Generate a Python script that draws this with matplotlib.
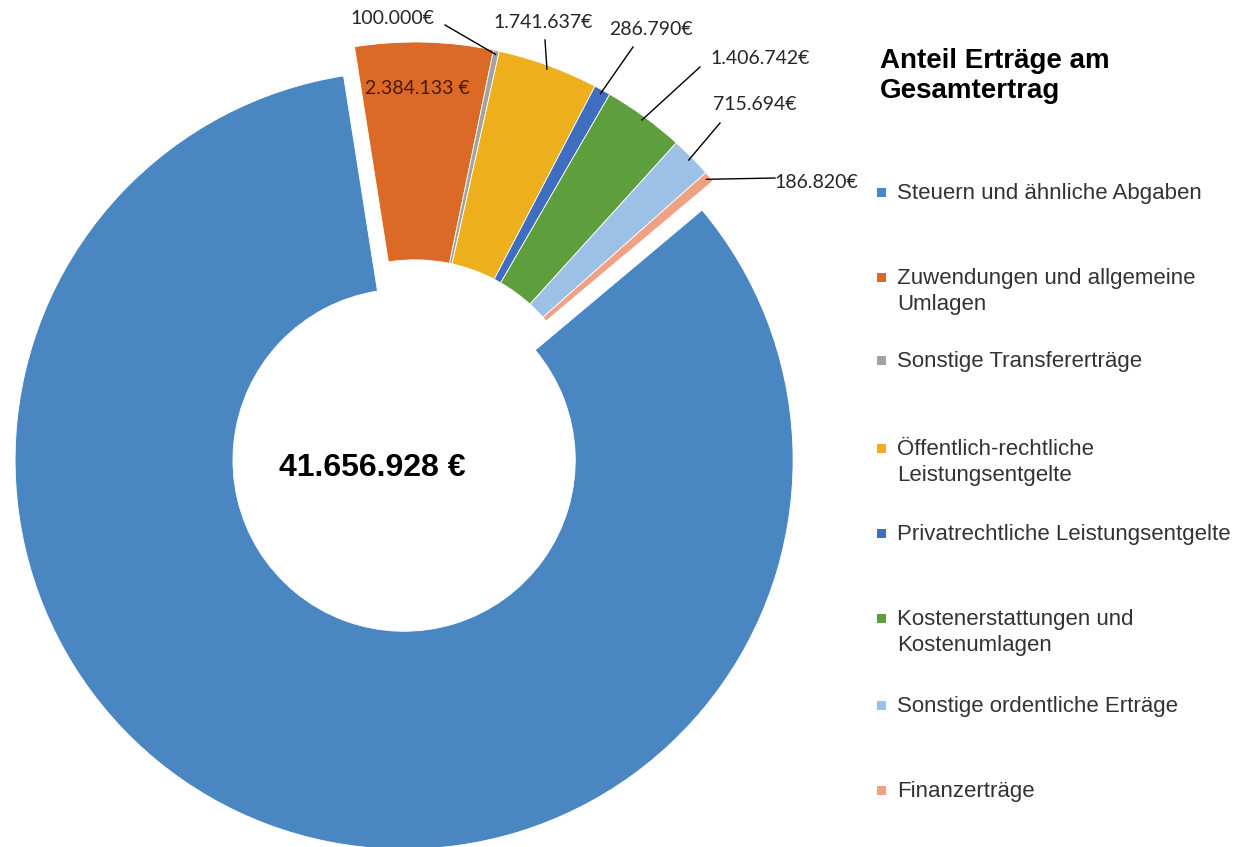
import matplotlib
matplotlib.use("Agg")
import numpy as np
import matplotlib.pyplot as plt
from matplotlib.patches import Rectangle

# data (euro)
categories = [
    "Steuern und ähnliche Abgaben",
    "Zuwendungen und allgemeine\nUmlagen",
    "Sonstige Transfererträge",
    "Öffentlich-rechtliche\nLeistungsentgelte",
    "Privatrechtliche Leistungsentgelte",
    "Kostenerstattungen und\nKostenumlagen",
    "Sonstige ordentliche Erträge",
    "Finanzerträge",
]
values = [34835112, 2384133, 100000, 1741637, 286790, 1406742, 715694, 186820]
value_labels = ["", "2.384.133 €", "100.000€", "1.741.637€", "286.790€",
                "1.406.742€", "715.694€", "186.820€"]
total_label = "41.656.928 €"
title = "Anteil Erträge am\nGesamtertrag"

colors = ["#4A86C2", "#DC6A27", "#A3A3A3", "#EDB01C", "#3F6DC0",
          "#5F9E3C", "#9DC1E6", "#F0A184"]

W, H = 1242, 847
CX, CY, R = 415, 431, 389   # pixel centre / radius of the unexploded ring


def px(x, y):
    """pixel (from top-left) -> data coords"""
    return (x - CX) / R, (CY - y) / R


fig = plt.figure(figsize=(W / 100, H / 100), dpi=100)
ax = fig.add_axes([0, 0, 1, 1])

wedges, _ = ax.pie(values, colors=colors, startangle=40, counterclock=False,
                   explode=[0.08] + [0] * 7, radius=1.0,
                   wedgeprops=dict(width=0.56, edgecolor="white", linewidth=0.6))

x0, y0 = px(0, H)
x1, y1 = px(W, 0)
ax.set_xlim(x0, x1)
ax.set_ylim(y0, y1)
ax.set_aspect("auto")
ax.axis("off")

lab_font = dict(family=["Lato", "DejaVu Sans"], fontsize=14, color="#262626")

# inside label of the orange wedge
tx, ty = px(417, 88)
ax.text(tx, ty, value_labels[1], ha="center", va="center",
        **{**lab_font, "color": "#4a1a08"})

# outside labels with leader lines: (text centre px, line start px)
label_layout = {
    2: ((392, 18), (445, 25)),
    3: ((543, 23), (545, 40)),
    4: ((651, 30), (633, 47)),
    5: ((760, 58), (700, 67)),
    6: ((755, 105), (720, 123)),
    7: ((816, 183), (775, 178)),
}
for i, ((tpx, tpy), (lpx, lpy)) in label_layout.items():
    w = wedges[i]
    mid = np.deg2rad((w.theta1 + w.theta2) / 2)
    ex, ey = np.cos(mid) * 0.99, np.sin(mid) * 0.99
    sx, sy = px(lpx, lpy)
    ax.plot([sx, ex], [sy, ey], color="black", lw=1.0)
    tx, ty = px(tpx, tpy)
    ax.text(tx, ty, value_labels[i], ha="center", va="center", **lab_font)

# total in the hole
tx, ty = px(372, 468)
ax.text(tx, ty, total_label, ha="center", va="center", fontsize=23,
        fontweight="bold", family="Liberation Sans", color="black")

# title
tx, ty = px(880, 76)
ax.text(tx, ty, title, ha="left", va="center", fontsize=20, fontweight="bold",
        family="Liberation Sans", color="black", linespacing=1.15)

# legend, drawn by hand
leg_y = [192, 277, 360, 448, 533, 618, 705, 790]
for c, name, ly in zip(colors, categories, leg_y):
    mx, my = px(877, ly + 5)
    ax.add_patch(Rectangle((mx, my), 9 / R, 9 / R, facecolor=c, edgecolor="none"))
    tx, ty = px(897, ly - 9)
    ax.text(tx, ty, name, ha="left", va="top", fontsize=16,
            family="Liberation Sans", color="#333333", linespacing=1.3)

fig.savefig("out.png", dpi=100, facecolor="white")
